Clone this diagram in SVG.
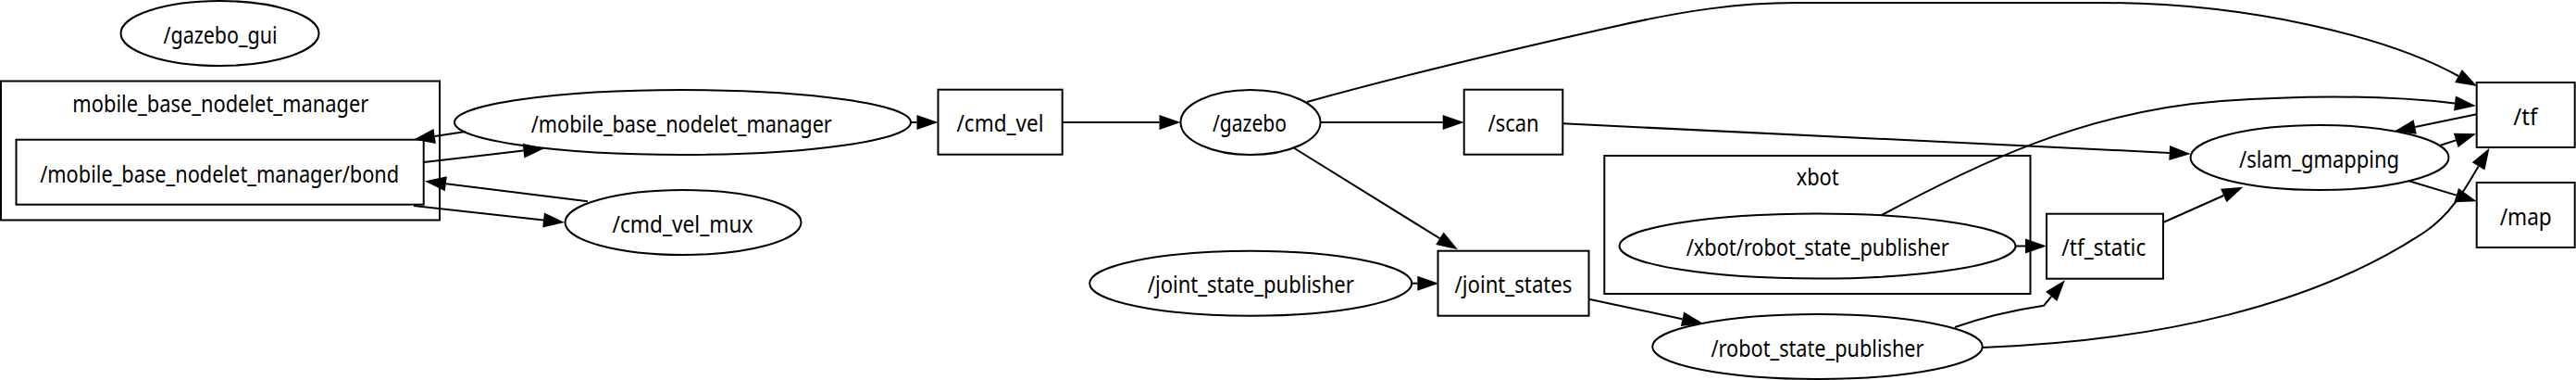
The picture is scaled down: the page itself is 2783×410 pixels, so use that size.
<svg xmlns="http://www.w3.org/2000/svg" width="2783" height="410" viewBox="0 0 2783 410">
<style>
.shape{fill:none;stroke:#000;stroke-width:2}
.edge path{fill:none;stroke:#000;stroke-width:2;marker-end:url(#ah)}
text{font-family:"Noto Sans","DejaVu Sans",sans-serif;font-size:25px;text-anchor:middle;fill:#000}
</style>
<defs>
<marker id="ah" markerUnits="userSpaceOnUse" markerWidth="24" markerHeight="16" viewBox="0 0 24 16" refX="0" refY="8" orient="auto" overflow="visible">
<path d="M0,0 L23,8 L0,16 z" fill="#000" stroke="none"/>
</marker>
</defs>
<rect x="0" y="0" width="2783" height="410" fill="#fff"/>

<g id="cluster_mobile_base_nodelet_manager">
<rect class="shape" x="1" y="87.5" width="474" height="150"/>
<text x="238.3" y="120.7" textLength="320" lengthAdjust="spacingAndGlyphs">mobile_base_nodelet_manager</text>
</g>
<g id="cluster_xbot">
<rect class="shape" x="1733.3" y="168" width="460.2" height="149"/>
<text x="1963.7" y="200" textLength="46" lengthAdjust="spacingAndGlyphs">xbot</text>
</g>

<g id="node_gazebo_gui">
<ellipse class="shape" cx="237.5" cy="36" rx="107" ry="35"/>
<text x="238" y="46.5" textLength="123" lengthAdjust="spacingAndGlyphs">/gazebo_gui</text>
</g>
<g id="node_bond">
<rect class="shape" x="17.5" y="150.7" width="440.2" height="70"/>
<text x="237.2" y="196.5" textLength="388" lengthAdjust="spacingAndGlyphs">/mobile_base_nodelet_manager/bond</text>
</g>
<g id="node_mobile_base_nodelet_manager">
<ellipse class="shape" cx="737.5" cy="132" rx="246.5" ry="35"/>
<text x="736.3" y="142.8" textLength="325" lengthAdjust="spacingAndGlyphs">/mobile_base_nodelet_manager</text>
</g>
<g id="node_cmd_vel_mux">
<ellipse class="shape" cx="738" cy="240" rx="127.5" ry="35"/>
<text x="737.5" y="250.7" textLength="152" lengthAdjust="spacingAndGlyphs">/cmd_vel_mux</text>
</g>
<g id="node_cmd_vel">
<rect class="shape" x="1013.5" y="96.7" width="134.2" height="70"/>
<text x="1080.5" y="142" textLength="94" lengthAdjust="spacingAndGlyphs">/cmd_vel</text>
</g>
<g id="node_gazebo">
<ellipse class="shape" cx="1351" cy="132" rx="75.5" ry="35"/>
<text x="1350" y="142" textLength="80" lengthAdjust="spacingAndGlyphs">/gazebo</text>
</g>
<g id="node_scan">
<rect class="shape" x="1581.7" y="96.7" width="106.6" height="70"/>
<text x="1635" y="142" textLength="55" lengthAdjust="spacingAndGlyphs">/scan</text>
</g>
<g id="node_joint_state_publisher">
<ellipse class="shape" cx="1351.2" cy="305.7" rx="174" ry="35"/>
<text x="1351.3" y="316.2" textLength="223" lengthAdjust="spacingAndGlyphs">/joint_state_publisher</text>
</g>
<g id="node_joint_states">
<rect class="shape" x="1553.5" y="270.7" width="163" height="70"/>
<text x="1635" y="316.2" textLength="127" lengthAdjust="spacingAndGlyphs">/joint_states</text>
</g>
<g id="node_xbot_robot_state_publisher">
<ellipse class="shape" cx="1963.5" cy="265.5" rx="214" ry="35"/>
<text x="1963.8" y="276" textLength="284" lengthAdjust="spacingAndGlyphs">/xbot/robot_state_publisher</text>
</g>
<g id="node_robot_state_publisher">
<ellipse class="shape" cx="1963.5" cy="374" rx="178.3" ry="35"/>
<text x="1963.5" y="384.5" textLength="230" lengthAdjust="spacingAndGlyphs">/robot_state_publisher</text>
</g>
<g id="node_tf_static">
<rect class="shape" x="2211" y="230.7" width="126" height="70"/>
<text x="2272.8" y="276.2" textLength="91" lengthAdjust="spacingAndGlyphs">/tf_static</text>
</g>
<g id="node_slam_gmapping">
<ellipse class="shape" cx="2506" cy="170" rx="139.5" ry="35"/>
<text x="2505.5" y="180.5" textLength="173" lengthAdjust="spacingAndGlyphs">/slam_gmapping</text>
</g>
<g id="node_tf">
<rect class="shape" x="2675.7" y="89" width="106" height="70"/>
<text x="2728.3" y="134.5" textLength="26" lengthAdjust="spacingAndGlyphs">/tf</text>
</g>
<g id="node_map">
<rect class="shape" x="2675.7" y="197" width="106" height="70"/>
<text x="2728.7" y="242.5" textLength="56" lengthAdjust="spacingAndGlyphs">/map</text>
</g>

<g id="edges" class="edge">
<path d="M503,142 L469.7,147"/>
<path d="M458,175 L565.5,162.6"/>
<path d="M635,217.3 L481.8,198.3"/>
<path d="M447,222 L587.1,237.5"/>
<path d="M984,132 L990.5,132"/>
<path d="M1147.7,132 L1252.5,132"/>
<path d="M1426.7,132 L1558.7,132"/>
<path d="M1398.4,160 L1555.4,257.2"/>
<path d="M1525,305.7 L1531.3,305.7"/>
<path d="M1716.5,322.7 L1817.5,344.2"/>
<path d="M2177.5,265.5 L2188,265.5"/>
<path d="M2112,353 C2160,336 2200,331 2208,329.7 L2216.2,319.9"/>
<path d="M2337,240 L2402.3,211"/>
<path d="M1688.3,133.3 L2343.7,164.9"/>
<path d="M2033,232 C2130,180 2250,120 2400,109 C2500,102 2580,103 2652,111.5"/>
<path d="M2141.5,375 C2330,368 2500,330 2620,250 C2650,230 2667,197 2677.6,179.4"/>
<path d="M2675.7,123.3 L2609.2,137"/>
<path d="M2636.7,156.7 L2653.2,151.4"/>
<path d="M2601.7,195 L2653.7,210.6"/>
<path d="M1412,110 C1520,80 1640,52 1738,30 C1820,11 1880,3 1940,3 L2270,3 C2430,3 2580,40 2656,82"/>
</g>
</svg>
